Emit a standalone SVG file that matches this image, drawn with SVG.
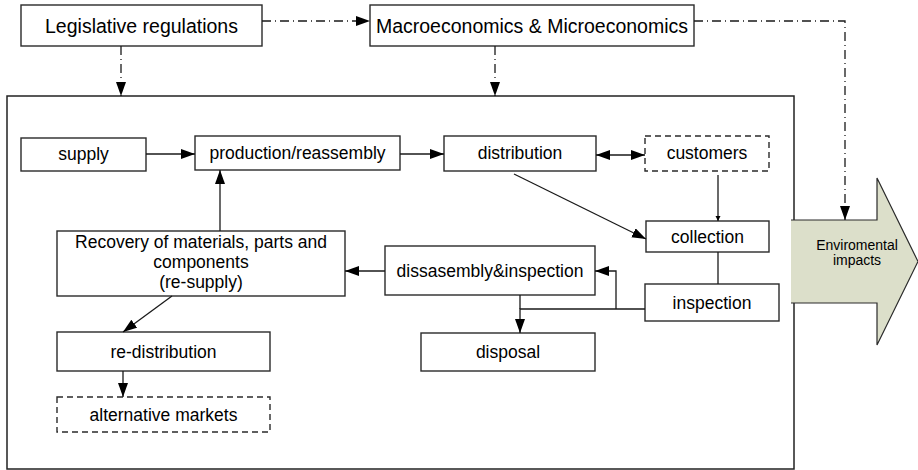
<svg xmlns="http://www.w3.org/2000/svg" width="918" height="470" viewBox="0 0 918 470">
  <style>
    .box { fill: #ffffff; stroke: #2a2a2a; stroke-width: 1.4; }
    .dbox { fill: #ffffff; stroke: #2a2a2a; stroke-width: 1.4; stroke-dasharray: 6 4; }
    .lbl { font-family: "Liberation Sans", Arial, sans-serif; font-size: 17.5px; fill: #000; text-anchor: middle; }
    .top { font-size: 19.5px; }
    .env { font-size: 14px; }
    .con { fill: none; stroke: #1a1a1a; stroke-width: 1.3; }
    .dd { stroke-dasharray: 9 4 1 4; }
  </style>
  <defs>
    <marker id="ah" markerUnits="userSpaceOnUse" markerWidth="16" markerHeight="12" refX="14" refY="5" orient="auto-start-reverse">
      <path d="M0,0 L14,5 L0,10 Z" fill="#000"/>
    </marker>
    <marker id="ahs" markerUnits="userSpaceOnUse" markerWidth="8" markerHeight="8" refX="5" refY="2.5" orient="auto">
      <path d="M0,0 L5,2.5 L0,5 Z" fill="#000"/>
    </marker>
  </defs>

  <!-- system boundary -->
  <rect id="system" x="7" y="96" width="787" height="373" fill="none" stroke="#222" stroke-width="1.5"/>

  <!-- environmental impacts arrow -->
  <g id="impacts">
    <polygon points="791,220 877,220 877,178 918,261.5 877,345 877,303 791,303" fill="#dcdfca"/>
    <path d="M791,220 H877 V178 L918,261.5 L877,345 V303 H791" fill="none" stroke="#2a2a2a" stroke-width="1.2"/>
    <text class="lbl env" x="857" y="250">Enviromental</text>
    <text class="lbl env" x="857" y="265">impacts</text>
  </g>

  <g id="legislative">
    <rect class="box" x="21" y="5" width="241" height="41"/>
    <text class="lbl top" x="141.5" y="33">Legislative regulations</text>
  </g>
  <g id="economics">
    <rect class="box" x="370" y="5" width="324" height="41"/>
    <text class="lbl top" x="532" y="33">Macroeconomics &amp; Microeconomics</text>
  </g>

  <g id="supply">
    <rect class="box" x="21" y="138" width="125" height="33"/>
    <text class="lbl" x="83.5" y="160">supply</text>
  </g>
  <g id="production">
    <rect class="box" x="195" y="136" width="205" height="34"/>
    <text class="lbl" x="297.5" y="159">production/reassembly</text>
  </g>
  <g id="distribution">
    <rect class="box" x="444" y="136" width="152" height="35"/>
    <text class="lbl" x="520" y="159">distribution</text>
  </g>
  <g id="customers">
    <rect class="dbox" x="645" y="136" width="124" height="35"/>
    <text class="lbl" x="707" y="159">customers</text>
  </g>
  <g id="collection">
    <rect class="box" x="646" y="221" width="123" height="31"/>
    <text class="lbl" x="707.5" y="242.5">collection</text>
  </g>
  <g id="inspection">
    <rect class="box" x="645" y="284" width="134" height="37"/>
    <text class="lbl" x="712" y="308.5">inspection</text>
  </g>
  <g id="disassembly">
    <rect class="box" x="385" y="246" width="210" height="49"/>
    <text class="lbl" x="490" y="276.5">dissasembly&amp;inspection</text>
  </g>
  <g id="disposal">
    <rect class="box" x="421" y="333" width="174" height="38"/>
    <text class="lbl" x="508" y="358">disposal</text>
  </g>
  <g id="recovery">
    <rect class="box" x="57" y="231" width="288" height="65"/>
    <text class="lbl" x="201" y="248">Recovery of materials, parts and</text>
    <text class="lbl" x="201" y="268">components</text>
    <text class="lbl" x="201" y="288">(re-supply)</text>
  </g>
  <g id="redistribution">
    <rect class="box" x="57" y="332" width="213" height="39"/>
    <text class="lbl" x="163.5" y="357.5">re-distribution</text>
  </g>
  <g id="alternative">
    <rect class="dbox" x="57" y="397" width="213" height="35"/>
    <text class="lbl" x="163.5" y="420.5">alternative markets</text>
  </g>

  <g id="connectors">
    <!-- external influences (dash-dot) -->
    <path class="con dd" d="M262,21 H370" marker-end="url(#ah)"/>
    <path class="con dd" d="M121,46 V96" marker-end="url(#ah)"/>
    <path class="con dd" d="M495,46 V96" marker-end="url(#ah)"/>
    <path class="con dd" d="M694,21 H845 V220" marker-end="url(#ah)"/>
    <!-- forward chain -->
    <path class="con" d="M146,154 H195" marker-end="url(#ah)"/>
    <path class="con" d="M400,154 H444" marker-end="url(#ah)"/>
    <path class="con" d="M596,155 H645" marker-start="url(#ah)" marker-end="url(#ah)"/>
    <path class="con" d="M718,175 V221" marker-end="url(#ahs)"/>
    <path class="con" d="M514,174 L646,239" marker-end="url(#ah)"/>
    <!-- reverse chain -->
    <path class="con" d="M718,252 V284"/>
    <path class="con" d="M645,309 H520 V333" marker-end="url(#ah)"/>
    <path class="con" d="M520,295 V309"/>
    <path class="con" d="M616,309 V271 H595" marker-end="url(#ah)"/>
    <path class="con" d="M385,271 H345" marker-end="url(#ah)"/>
    <path class="con" d="M220,231 V170" marker-end="url(#ah)"/>
    <path class="con" d="M172,296 L123,332" marker-end="url(#ah)"/>
    <path class="con" d="M123,371 V397" marker-end="url(#ah)"/>
  </g>
</svg>
